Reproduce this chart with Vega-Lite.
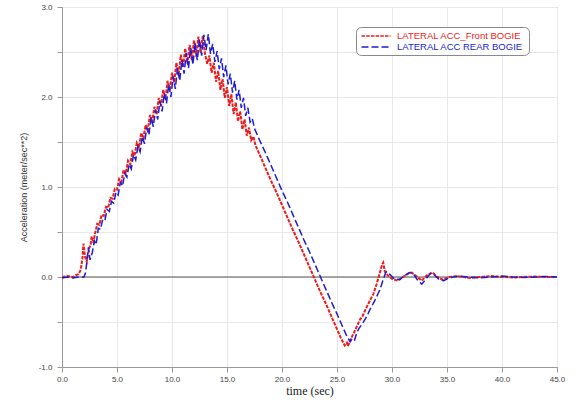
{
  "$schema": "https://vega.github.io/schema/vega-lite/v6.json",
  "width": 495,
  "height": 360,
  "autosize": {"type": "none"},
  "padding": {"left": 62, "top": 7, "right": 19, "bottom": 35},
  "background": "white",
  "config": {
    "font": "Liberation Sans",
    "view": {"stroke": "#9a9a9a", "strokeWidth": 1}
  },
  "datasets": {
    "zero": [{"v": 0}],
    "front": [
      {"bogie": "Front", "t": 0, "v": 0}, {"bogie": "Front", "t": 0.5, "v": 0.01}, {"bogie": "Front", "t": 1.0, "v": 0.0},
      {"bogie": "Front", "t": 1.25, "v": 0.02}, {"bogie": "Front", "t": 1.5, "v": 0.03}, {"bogie": "Front", "t": 1.7, "v": 0.08},
      {"bogie": "Front", "t": 1.85, "v": 0.2}, {"bogie": "Front", "t": 1.95, "v": 0.37}, {"bogie": "Front", "t": 2.1, "v": 0.22},
      {"bogie": "Front", "t": 2.25, "v": 0.17}, {"bogie": "Front", "t": 2.45, "v": 0.31}, {"bogie": "Front", "t": 2.6, "v": 0.36},
      {"bogie": "Front", "t": 2.7, "v": 0.45}, {"bogie": "Front", "t": 2.85, "v": 0.38},
      {"bogie": "Front", "t": 3.0, "v": 0.48}, {"bogie": "Front", "t": 3.2, "v": 0.59}, {"bogie": "Front", "t": 3.4, "v": 0.58},
      {"bogie": "Front", "t": 3.6, "v": 0.69}, {"bogie": "Front", "t": 3.8, "v": 0.68}, {"bogie": "Front", "t": 4.0, "v": 0.78},
      {"bogie": "Front", "t": 4.2, "v": 0.77}, {"bogie": "Front", "t": 4.4, "v": 0.88}, {"bogie": "Front", "t": 4.6, "v": 0.87},
      {"bogie": "Front", "t": 4.8, "v": 0.98}, {"bogie": "Front", "t": 5.0, "v": 0.97}, {"bogie": "Front", "t": 5.2, "v": 1.09},
      {"bogie": "Front", "t": 5.4, "v": 1.06}, {"bogie": "Front", "t": 5.6, "v": 1.19}, {"bogie": "Front", "t": 5.8, "v": 1.15},
      {"bogie": "Front", "t": 6.0, "v": 1.29}, {"bogie": "Front", "t": 6.2, "v": 1.25}, {"bogie": "Front", "t": 6.4, "v": 1.39},
      {"bogie": "Front", "t": 6.6, "v": 1.35}, {"bogie": "Front", "t": 6.8, "v": 1.49}, {"bogie": "Front", "t": 7.0, "v": 1.44},
      {"bogie": "Front", "t": 7.2, "v": 1.60}, {"bogie": "Front", "t": 7.4, "v": 1.54}, {"bogie": "Front", "t": 7.6, "v": 1.69},
      {"bogie": "Front", "t": 7.8, "v": 1.63}, {"bogie": "Front", "t": 8.0, "v": 1.80}, {"bogie": "Front", "t": 8.2, "v": 1.72},
      {"bogie": "Front", "t": 8.4, "v": 1.89}, {"bogie": "Front", "t": 8.6, "v": 1.81}, {"bogie": "Front", "t": 8.8, "v": 1.99},
      {"bogie": "Front", "t": 9.0, "v": 1.90}, {"bogie": "Front", "t": 9.2, "v": 2.08}, {"bogie": "Front", "t": 9.4, "v": 1.98},
      {"bogie": "Front", "t": 9.6, "v": 2.18}, {"bogie": "Front", "t": 9.8, "v": 2.07}, {"bogie": "Front", "t": 10.0, "v": 2.27},
      {"bogie": "Front", "t": 10.2, "v": 2.16}, {"bogie": "Front", "t": 10.4, "v": 2.38}, {"bogie": "Front", "t": 10.6, "v": 2.24},
      {"bogie": "Front", "t": 10.8, "v": 2.47}, {"bogie": "Front", "t": 11.0, "v": 2.33}, {"bogie": "Front", "t": 11.2, "v": 2.54},
      {"bogie": "Front", "t": 11.4, "v": 2.37}, {"bogie": "Front", "t": 11.6, "v": 2.58}, {"bogie": "Front", "t": 11.8, "v": 2.41},
      {"bogie": "Front", "t": 12.0, "v": 2.63}, {"bogie": "Front", "t": 12.2, "v": 2.45}, {"bogie": "Front", "t": 12.4, "v": 2.67},
      {"bogie": "Front", "t": 12.6, "v": 2.49}, {"bogie": "Front", "t": 12.8, "v": 2.68}, {"bogie": "Front", "t": 13.0, "v": 2.48},
      {"bogie": "Front", "t": 13.2, "v": 2.37}, {"bogie": "Front", "t": 13.4, "v": 2.46}, {"bogie": "Front", "t": 13.6, "v": 2.27},
      {"bogie": "Front", "t": 13.8, "v": 2.38}, {"bogie": "Front", "t": 14.0, "v": 2.17}, {"bogie": "Front", "t": 14.2, "v": 2.29},
      {"bogie": "Front", "t": 14.4, "v": 2.08}, {"bogie": "Front", "t": 14.6, "v": 2.20}, {"bogie": "Front", "t": 14.8, "v": 1.99},
      {"bogie": "Front", "t": 15.0, "v": 2.11}, {"bogie": "Front", "t": 15.2, "v": 1.90}, {"bogie": "Front", "t": 15.4, "v": 2.03},
      {"bogie": "Front", "t": 15.6, "v": 1.81}, {"bogie": "Front", "t": 15.8, "v": 1.94}, {"bogie": "Front", "t": 16.0, "v": 1.73},
      {"bogie": "Front", "t": 16.2, "v": 1.84}, {"bogie": "Front", "t": 16.4, "v": 1.64}, {"bogie": "Front", "t": 16.6, "v": 1.75},
      {"bogie": "Front", "t": 16.8, "v": 1.57}, {"bogie": "Front", "t": 17.0, "v": 1.66}, {"bogie": "Front", "t": 17.2, "v": 1.52},
      {"bogie": "Front", "t": 17.4, "v": 1.56}, {"bogie": "Front", "t": 17.6, "v": 1.46}, {"bogie": "Front", "t": 18.0, "v": 1.35},
      {"bogie": "Front", "t": 18.5, "v": 1.21}, {"bogie": "Front", "t": 19.0, "v": 1.07}, {"bogie": "Front", "t": 19.5, "v": 0.94},
      {"bogie": "Front", "t": 20.0, "v": 0.80}, {"bogie": "Front", "t": 20.5, "v": 0.66}, {"bogie": "Front", "t": 21.0, "v": 0.52},
      {"bogie": "Front", "t": 21.5, "v": 0.39}, {"bogie": "Front", "t": 22.0, "v": 0.25}, {"bogie": "Front", "t": 22.5, "v": 0.11},
      {"bogie": "Front", "t": 23.0, "v": -0.03}, {"bogie": "Front", "t": 23.5, "v": -0.17}, {"bogie": "Front", "t": 24.0, "v": -0.30},
      {"bogie": "Front", "t": 24.5, "v": -0.44}, {"bogie": "Front", "t": 25.0, "v": -0.58}, {"bogie": "Front", "t": 25.4, "v": -0.69},
      {"bogie": "Front", "t": 25.7, "v": -0.76}, {"bogie": "Front", "t": 25.9, "v": -0.73}, {"bogie": "Front", "t": 26.0, "v": -0.77},
      {"bogie": "Front", "t": 26.2, "v": -0.70}, {"bogie": "Front", "t": 26.5, "v": -0.63}, {"bogie": "Front", "t": 26.8, "v": -0.55},
      {"bogie": "Front", "t": 27.1, "v": -0.47}, {"bogie": "Front", "t": 27.3, "v": -0.44}, {"bogie": "Front", "t": 27.6, "v": -0.36},
      {"bogie": "Front", "t": 28.0, "v": -0.26}, {"bogie": "Front", "t": 28.3, "v": -0.19}, {"bogie": "Front", "t": 28.6, "v": -0.08},
      {"bogie": "Front", "t": 28.9, "v": 0.05}, {"bogie": "Front", "t": 29.1, "v": 0.14}, {"bogie": "Front", "t": 29.2, "v": 0.16},
      {"bogie": "Front", "t": 29.35, "v": 0.06}, {"bogie": "Front", "t": 29.6, "v": 0.02}, {"bogie": "Front", "t": 30.0, "v": -0.02},
      {"bogie": "Front", "t": 30.5, "v": -0.04}, {"bogie": "Front", "t": 31.0, "v": 0.0}, {"bogie": "Front", "t": 31.5, "v": 0.04},
      {"bogie": "Front", "t": 31.8, "v": 0.05}, {"bogie": "Front", "t": 32.2, "v": 0.01}, {"bogie": "Front", "t": 32.7, "v": -0.04},
      {"bogie": "Front", "t": 33.2, "v": 0.02}, {"bogie": "Front", "t": 33.7, "v": 0.05}, {"bogie": "Front", "t": 34.1, "v": 0.0},
      {"bogie": "Front", "t": 34.6, "v": -0.03}, {"bogie": "Front", "t": 35.2, "v": 0.0}, {"bogie": "Front", "t": 36, "v": 0.01},
      {"bogie": "Front", "t": 37, "v": -0.01}, {"bogie": "Front", "t": 38, "v": 0.0}, {"bogie": "Front", "t": 39, "v": 0.01},
      {"bogie": "Front", "t": 40, "v": 0.0}, {"bogie": "Front", "t": 41, "v": -0.005}, {"bogie": "Front", "t": 42, "v": 0.0},
      {"bogie": "Front", "t": 43, "v": 0.005}, {"bogie": "Front", "t": 44, "v": 0.0}, {"bogie": "Front", "t": 45, "v": 0.0}
    ],
    "rear": [
      {"bogie": "Rear", "t": 0, "v": -0.01}, {"bogie": "Rear", "t": 0.5, "v": 0.0}, {"bogie": "Rear", "t": 1.0, "v": -0.01},
      {"bogie": "Rear", "t": 1.5, "v": 0.0}, {"bogie": "Rear", "t": 2.0, "v": 0.0}, {"bogie": "Rear", "t": 2.15, "v": 0.05},
      {"bogie": "Rear", "t": 2.3, "v": 0.22}, {"bogie": "Rear", "t": 2.4, "v": 0.33}, {"bogie": "Rear", "t": 2.55, "v": 0.19},
      {"bogie": "Rear", "t": 2.75, "v": 0.27}, {"bogie": "Rear", "t": 2.95, "v": 0.40}, {"bogie": "Rear", "t": 3.1, "v": 0.36},
      {"bogie": "Rear", "t": 3.3, "v": 0.54}, {"bogie": "Rear", "t": 3.5, "v": 0.53}, {"bogie": "Rear", "t": 3.7, "v": 0.64},
      {"bogie": "Rear", "t": 3.9, "v": 0.63}, {"bogie": "Rear", "t": 4.1, "v": 0.75}, {"bogie": "Rear", "t": 4.3, "v": 0.73},
      {"bogie": "Rear", "t": 4.5, "v": 0.84}, {"bogie": "Rear", "t": 4.7, "v": 0.82}, {"bogie": "Rear", "t": 4.9, "v": 0.94},
      {"bogie": "Rear", "t": 5.1, "v": 0.91}, {"bogie": "Rear", "t": 5.3, "v": 1.05}, {"bogie": "Rear", "t": 5.5, "v": 1.01},
      {"bogie": "Rear", "t": 5.7, "v": 1.15}, {"bogie": "Rear", "t": 5.9, "v": 1.11}, {"bogie": "Rear", "t": 6.1, "v": 1.25},
      {"bogie": "Rear", "t": 6.3, "v": 1.20}, {"bogie": "Rear", "t": 6.5, "v": 1.36}, {"bogie": "Rear", "t": 6.7, "v": 1.30},
      {"bogie": "Rear", "t": 6.9, "v": 1.45}, {"bogie": "Rear", "t": 7.1, "v": 1.39}, {"bogie": "Rear", "t": 7.3, "v": 1.56},
      {"bogie": "Rear", "t": 7.5, "v": 1.48}, {"bogie": "Rear", "t": 7.7, "v": 1.66}, {"bogie": "Rear", "t": 7.9, "v": 1.58},
      {"bogie": "Rear", "t": 8.1, "v": 1.77}, {"bogie": "Rear", "t": 8.3, "v": 1.67}, {"bogie": "Rear", "t": 8.5, "v": 1.86},
      {"bogie": "Rear", "t": 8.7, "v": 1.75}, {"bogie": "Rear", "t": 8.9, "v": 1.95}, {"bogie": "Rear", "t": 9.1, "v": 1.84},
      {"bogie": "Rear", "t": 9.3, "v": 2.04}, {"bogie": "Rear", "t": 9.5, "v": 1.93}, {"bogie": "Rear", "t": 9.7, "v": 2.14},
      {"bogie": "Rear", "t": 9.9, "v": 2.00}, {"bogie": "Rear", "t": 10.1, "v": 2.23}, {"bogie": "Rear", "t": 10.3, "v": 2.09},
      {"bogie": "Rear", "t": 10.5, "v": 2.32}, {"bogie": "Rear", "t": 10.7, "v": 2.18}, {"bogie": "Rear", "t": 10.9, "v": 2.41},
      {"bogie": "Rear", "t": 11.1, "v": 2.26}, {"bogie": "Rear", "t": 11.3, "v": 2.49}, {"bogie": "Rear", "t": 11.5, "v": 2.32},
      {"bogie": "Rear", "t": 11.7, "v": 2.55}, {"bogie": "Rear", "t": 11.9, "v": 2.36}, {"bogie": "Rear", "t": 12.1, "v": 2.60},
      {"bogie": "Rear", "t": 12.3, "v": 2.41}, {"bogie": "Rear", "t": 12.5, "v": 2.64}, {"bogie": "Rear", "t": 12.7, "v": 2.46},
      {"bogie": "Rear", "t": 12.9, "v": 2.69}, {"bogie": "Rear", "t": 13.1, "v": 2.52}, {"bogie": "Rear", "t": 13.3, "v": 2.70},
      {"bogie": "Rear", "t": 13.5, "v": 2.48}, {"bogie": "Rear", "t": 13.7, "v": 2.59}, {"bogie": "Rear", "t": 13.9, "v": 2.39},
      {"bogie": "Rear", "t": 14.1, "v": 2.51}, {"bogie": "Rear", "t": 14.3, "v": 2.31}, {"bogie": "Rear", "t": 14.5, "v": 2.43},
      {"bogie": "Rear", "t": 14.7, "v": 2.22}, {"bogie": "Rear", "t": 14.9, "v": 2.35}, {"bogie": "Rear", "t": 15.1, "v": 2.14},
      {"bogie": "Rear", "t": 15.3, "v": 2.26}, {"bogie": "Rear", "t": 15.5, "v": 2.05}, {"bogie": "Rear", "t": 15.7, "v": 2.18},
      {"bogie": "Rear", "t": 15.9, "v": 1.97}, {"bogie": "Rear", "t": 16.1, "v": 2.08}, {"bogie": "Rear", "t": 16.3, "v": 1.88},
      {"bogie": "Rear", "t": 16.5, "v": 1.99}, {"bogie": "Rear", "t": 16.7, "v": 1.79}, {"bogie": "Rear", "t": 16.9, "v": 1.88},
      {"bogie": "Rear", "t": 17.1, "v": 1.72}, {"bogie": "Rear", "t": 17.3, "v": 1.76}, {"bogie": "Rear", "t": 17.5, "v": 1.65},
      {"bogie": "Rear", "t": 18.0, "v": 1.51}, {"bogie": "Rear", "t": 18.5, "v": 1.38}, {"bogie": "Rear", "t": 19.0, "v": 1.24},
      {"bogie": "Rear", "t": 19.5, "v": 1.10}, {"bogie": "Rear", "t": 20.0, "v": 0.96}, {"bogie": "Rear", "t": 20.5, "v": 0.83},
      {"bogie": "Rear", "t": 21.0, "v": 0.69}, {"bogie": "Rear", "t": 21.5, "v": 0.55}, {"bogie": "Rear", "t": 22.0, "v": 0.41},
      {"bogie": "Rear", "t": 22.5, "v": 0.28}, {"bogie": "Rear", "t": 23.0, "v": 0.14}, {"bogie": "Rear", "t": 23.5, "v": 0.0},
      {"bogie": "Rear", "t": 24.0, "v": -0.14}, {"bogie": "Rear", "t": 24.5, "v": -0.28}, {"bogie": "Rear", "t": 25.0, "v": -0.41},
      {"bogie": "Rear", "t": 25.5, "v": -0.55}, {"bogie": "Rear", "t": 25.9, "v": -0.66}, {"bogie": "Rear", "t": 26.2, "v": -0.72},
      {"bogie": "Rear", "t": 26.4, "v": -0.68}, {"bogie": "Rear", "t": 26.6, "v": -0.70}, {"bogie": "Rear", "t": 26.8, "v": -0.62},
      {"bogie": "Rear", "t": 27.0, "v": -0.57}, {"bogie": "Rear", "t": 27.3, "v": -0.52}, {"bogie": "Rear", "t": 27.7, "v": -0.44},
      {"bogie": "Rear", "t": 28.0, "v": -0.36}, {"bogie": "Rear", "t": 28.4, "v": -0.27}, {"bogie": "Rear", "t": 28.9, "v": -0.14},
      {"bogie": "Rear", "t": 29.2, "v": -0.03}, {"bogie": "Rear", "t": 29.4, "v": 0.04}, {"bogie": "Rear", "t": 29.5, "v": 0.06},
      {"bogie": "Rear", "t": 29.8, "v": 0.03}, {"bogie": "Rear", "t": 30.2, "v": -0.02}, {"bogie": "Rear", "t": 30.7, "v": -0.03},
      {"bogie": "Rear", "t": 31.2, "v": 0.02}, {"bogie": "Rear", "t": 31.6, "v": 0.05}, {"bogie": "Rear", "t": 31.9, "v": 0.04},
      {"bogie": "Rear", "t": 32.3, "v": -0.03}, {"bogie": "Rear", "t": 32.7, "v": -0.08}, {"bogie": "Rear", "t": 33.1, "v": -0.02},
      {"bogie": "Rear", "t": 33.5, "v": 0.04}, {"bogie": "Rear", "t": 33.8, "v": 0.03}, {"bogie": "Rear", "t": 34.3, "v": -0.03},
      {"bogie": "Rear", "t": 34.7, "v": -0.04}, {"bogie": "Rear", "t": 35.2, "v": -0.01}, {"bogie": "Rear", "t": 36, "v": 0.01},
      {"bogie": "Rear", "t": 37, "v": 0.0}, {"bogie": "Rear", "t": 38, "v": -0.01}, {"bogie": "Rear", "t": 39, "v": 0.0},
      {"bogie": "Rear", "t": 40, "v": 0.01}, {"bogie": "Rear", "t": 41, "v": 0.0}, {"bogie": "Rear", "t": 42, "v": -0.005},
      {"bogie": "Rear", "t": 43, "v": 0.0}, {"bogie": "Rear", "t": 44, "v": 0.005}, {"bogie": "Rear", "t": 45, "v": 0.0}
    ]
  },
  "layer": [
    {
      "data": {"name": "zero"},
      "mark": {"type": "rule", "color": "#555555", "strokeWidth": 1},
      "encoding": {
        "y": {"field": "v", "type": "quantitative", "scale": {"domain": [-1, 3], "nice": false}}
      }
    },
    {
      "data": {"name": "front"},
      "mark": {"type": "line", "strokeWidth": 2, "clip": true},
      "encoding": {
        "x": {
          "field": "t", "type": "quantitative",
          "scale": {"domain": [0, 45], "nice": false},
          "axis": {
            "title": "time (sec)",
            "values": [0, 2.5, 5, 7.5, 10, 12.5, 15, 17.5, 20, 22.5, 25, 27.5, 30, 32.5, 35, 37.5, 40, 42.5, 45],
            "labelExpr": "datum.value % 5 === 0 ? format(datum.value, '.1f') : ''",
            "labelFlush": false,
            "labelFontSize": 8,
            "labelColor": "#444444",
            "labelPadding": 3,
            "tickSize": 5,
            "tickColor": "#9a9a9a",
            "domainColor": "#9a9a9a",
            "gridColor": "#e8e8e8",
            "titleFont": "Liberation Serif",
            "titleFontSize": 12,
            "titleFontWeight": "normal",
            "titleColor": "#222222",
            "titlePadding": 2
          }
        },
        "y": {
          "field": "v", "type": "quantitative",
          "scale": {"domain": [-1, 3], "nice": false},
          "axis": {
            "title": "Acceleration (meter/sec**2)",
            "values": [-1, -0.5, 0, 0.5, 1, 1.5, 2, 2.5, 3],
            "labelExpr": "datum.value % 1 === 0 ? replace(format(datum.value, '.1f'), '\u2212', '-') : ''",
            "labelFlush": false,
            "labelFontSize": 8,
            "labelColor": "#444444",
            "labelPadding": 5,
            "tickSize": 5,
            "tickColor": "#9a9a9a",
            "domainColor": "#9a9a9a",
            "gridColor": "#e8e8e8",
            "titleFontSize": 9,
            "titleFontWeight": "normal",
            "titleColor": "#333333",
            "titlePadding": 10
          }
        },
        "color": {
          "field": "bogie", "type": "nominal",
          "scale": {"domain": ["Front", "Rear"], "range": ["#ee1c1c", "#1c1cd4"]},
          "legend": {
            "orient": "none", "legendX": 294, "legendY": 20, "title": null,
            "padding": 3, "strokeColor": "#8a8a8a", "fillColor": "white", "cornerRadius": 5,
            "symbolType": "M-2.9,0H2.9", "symbolSize": 100, "symbolStrokeWidth": 1.5, "symbolOffset": 11,
            "labelFontSize": 9.5, "labelOffset": 15, "rowPadding": -3, "labelLimit": 300,
            "labelExpr": "datum.label === 'Front' ? 'LATERAL ACC_Front BOGIE' : 'LATERAL ACC  REAR BOGIE'",
            "encode": {"labels": {"update": {"fill": {"signal": "datum.value === 'Front' ? '#ee1c1c' : '#1c1cd4'"}}}}
          }
        },
        "strokeDash": {
          "field": "bogie", "type": "nominal",
          "scale": {"domain": ["Front", "Rear"], "range": [[3.5, 1.2], [7, 3]]},
          "legend": {
            "orient": "none", "legendX": 294, "legendY": 20, "title": null,
            "padding": 3, "strokeColor": "#8a8a8a", "fillColor": "white", "cornerRadius": 5,
            "symbolType": "M-2.9,0H2.9", "symbolSize": 100, "symbolStrokeWidth": 1.5, "symbolOffset": 11,
            "labelFontSize": 9.5, "labelOffset": 15, "rowPadding": -3, "labelLimit": 300,
            "labelExpr": "datum.label === 'Front' ? 'LATERAL ACC_Front BOGIE' : 'LATERAL ACC  REAR BOGIE'",
            "encode": {"labels": {"update": {"fill": {"signal": "datum.value === 'Front' ? '#ee1c1c' : '#1c1cd4'"}}}}
          }
        }
      }
    },
    {
      "data": {"name": "rear"},
      "mark": {"type": "line", "strokeWidth": 1.5, "clip": true},
      "encoding": {
        "x": {"field": "t", "type": "quantitative"},
        "y": {"field": "v", "type": "quantitative"},
        "color": {"field": "bogie", "type": "nominal"},
        "strokeDash": {"field": "bogie", "type": "nominal"}
      }
    }
  ]
}
